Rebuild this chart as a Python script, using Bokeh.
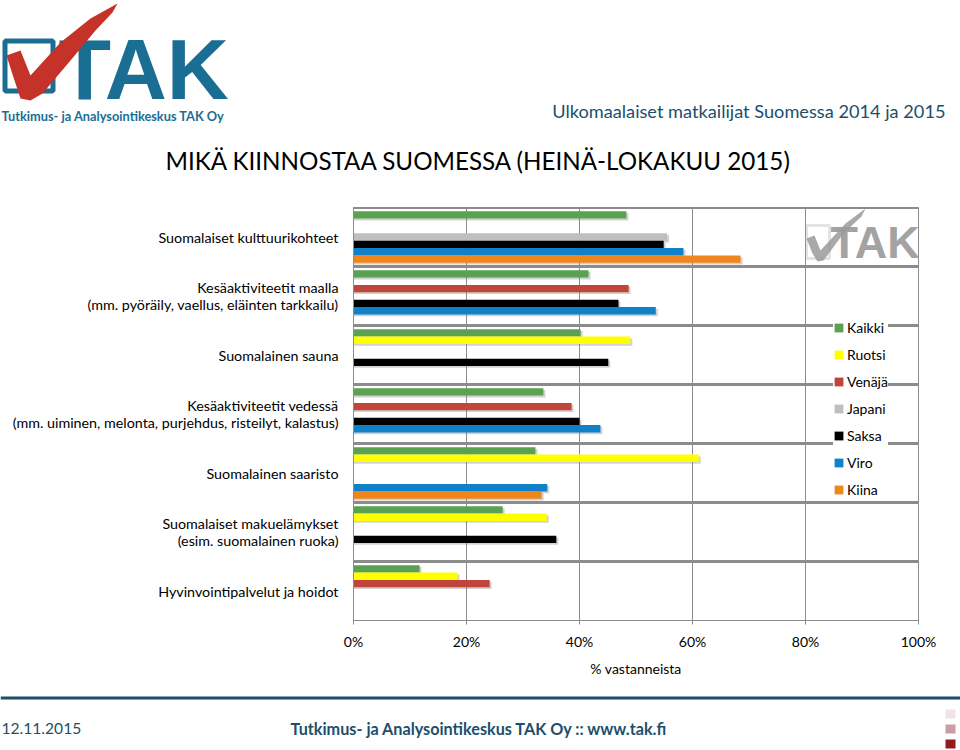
import numpy as np
from bokeh.plotting import figure
from bokeh.layouts import column
from bokeh.models import (FactorRange, Range1d, FixedTicker, PrintfTickFormatter, Label,
                          BoxAnnotation, PolyAnnotation, Span, ColumnDataSource)
from bokeh.transform import dodge
from bokeh.embed import file_html
from bokeh.resources import INLINE

nan = float("nan")

# ---------------- data ----------------
categories = [
    "Suomalaiset kulttuurikohteet",
    "Kesäaktiviteetit maalla\n(mm. pyöräily, vaellus, eläinten tarkkailu)",
    "Suomalainen sauna",
    "Kesäaktiviteetit vedessä\n(mm. uiminen, melonta, purjehdus, risteilyt, kalastus)",
    "Suomalainen saaristo",
    "Suomalaiset makuelämykset\n(esim. suomalainen ruoka)",
    "Hyvinvointipalvelut ja hoidot",
]
series_names = ["Kaikki", "Ruotsi", "Venäjä", "Japani", "Saksa", "Viro", "Kiina"]
series_colors = ["#5aa151", "#ffff00", "#c0453b", "#bfbfbf", "#000000", "#1080c8", "#ef861c"]

kaikki = [48.3, 41.6, 40.2, 33.6, 32.2, 26.4, 11.7]
ruotsi = [nan, nan, 49.0, nan, 61.1, 34.2, 18.4]
venaja = [nan, 48.7, nan, 38.6, nan, nan, 24.1]
japani = [55.5, nan, nan, nan, nan, nan, nan]
saksa = [54.9, 46.9, 45.1, 40.0, nan, 35.9, nan]
viro = [58.4, 53.5, nan, 43.7, 34.3, nan, nan]
kiina = [68.5, nan, nan, nan, 33.3, nan, nan]
series_values = [kaikki, ruotsi, venaja, japani, saksa, viro, kiina]

x_ticks = [0, 20, 40, 60, 80, 100]
x_axis_label = "% vastanneista"
chart_title = "MIKÄ KIINNOSTAA SUOMESSA (HEINÄ-LOKAKUU 2015)"
header_text = "Ulkomaalaiset matkailijat Suomessa 2014 ja 2015"
logo_sub = "Tutkimus- ja Analysointikeskus TAK Oy"
footer_date = "12.11.2015"
footer_text = "Tutkimus- ja Analysointikeskus TAK Oy  ::  www.tak.fi"

# ---------------- layout ----------------
W = 960
TOP_H = 200          # page 0..200
MAIN_TOP, MAIN_BOT = 200, 680
FOOT_H = 750 - MAIN_BOT
FL, FR, FT, FB = 353, 918, 207, 620   # frame edges in page pixels

TEAL = "#1b6e93"
DARK = "#1c4f6c"
GRID = "#8c8c8c"


def deco_figure(h):
    f = figure(width=W, height=h, output_backend="svg", toolbar_location=None,
               x_range=Range1d(0, W), y_range=Range1d(h, 0),
               x_axis_type=None, y_axis_type=None, min_border=0)
    f.frame_align = False
    f.outline_line_color = None
    f.grid.visible = False
    f.background_fill_color = "white"
    f.border_fill_color = "white"
    return f


def dlab(f, top, text, X, Y, size, color="#000000", font="Lato", style="normal",
         align="left", baseline="middle"):
    f.add_layout(Label(x=X, y=Y - top, text=text, text_font=font, text_font_size=f"{size}px",
                       text_color=color, text_font_style=style, text_align=align,
                       text_baseline=baseline))


def dbox(f, top, x0, y0, x1, y1, fill=None, line=None, lw=1):
    f.add_layout(BoxAnnotation(left=x0, right=x1, top=y0 - top, bottom=y1 - top,
                               fill_color=fill if fill else "white", fill_alpha=1 if fill else 0,
                               line_color=line if line else "white", line_alpha=1 if line else 0,
                               line_width=lw))


def dpoly(f, top, pts, color, alpha=1.0):
    f.add_layout(PolyAnnotation(xs=[a for a, b in pts], ys=[b - top for a, b in pts],
                                fill_color=color, fill_alpha=alpha, line_color=None))


# ---------------- header figure ----------------
top = deco_figure(TOP_H)
dbox(top, 0, 4.5, 40.5, 52.5, 90.5, line=TEAL, lw=5)
dlab(top, 0, "TAK", 58, 68, 86, color=TEAL, font="Liberation Sans", style="bold",
     baseline="alphabetic")
dpoly(top, 0, [(6, 55), (20, 50), (30, 75), (60, 42), (90, 18), (117, 3), (112, 12), (95, 30),
               (70, 60), (42, 93), (30, 100), (20, 98), (14, 80)], "#c5322a")
dlab(top, 0, logo_sub, 1, 115, 12.8, color=TEAL, style="bold")
dlab(top, 0, header_text, 945, 110, 18.2, color=DARK, align="right")
dlab(top, 0, chart_title, 165, 160, 24.2)

# ---------------- main chart ----------------
MH = MAIN_BOT - MAIN_TOP
p = figure(width=W, height=MH, output_backend="svg", toolbar_location=None,
           y_range=FactorRange(factors=list(reversed(categories))),
           x_range=Range1d(0, 100),
           min_border_left=FL, min_border_right=W - FR,
           min_border_top=FT - MAIN_TOP, min_border_bottom=MAIN_BOT - FB)
p.frame_align = False
p.background_fill_color = "white"
p.border_fill_color = "white"
p.outline_line_color = GRID
p.outline_line_width = 1

p.xaxis.ticker = FixedTicker(ticks=x_ticks)
p.xaxis.formatter = PrintfTickFormatter(format="%d%%")
p.xaxis.axis_label = x_axis_label
p.xaxis.axis_label_text_font = "Lato"
p.xaxis.axis_label_text_font_style = "normal"
p.xaxis.axis_label_text_font_size = "14px"
p.xaxis.axis_label_text_color = "#000000"
p.xaxis.axis_label_standoff = 7
p.xaxis.major_label_text_font = "Lato"
p.xaxis.major_label_text_font_size = "14px"
p.xaxis.major_label_text_color = "#000000"
p.xaxis.major_label_standoff = 8
p.xaxis.axis_line_color = GRID
p.xaxis.major_tick_line_color = GRID
p.xaxis.major_tick_in = 0
p.xaxis.major_tick_out = 4
p.xaxis.minor_tick_line_color = None

p.yaxis.major_label_text_font = "Lato"
p.yaxis.major_label_text_font_size = "14.3px"
p.yaxis.major_label_text_color = "#000000"
p.yaxis.major_label_text_line_height = 1.0
p.yaxis.major_label_standoff = 15
p.yaxis.axis_line_color = GRID
p.yaxis.major_tick_line_color = None
p.yaxis.major_tick_out = 0
p.yaxis.major_tick_in = 0

p.xgrid.ticker = FixedTicker(ticks=x_ticks)
p.xgrid.grid_line_color = GRID
p.xgrid.grid_line_width = 1
p.ygrid.ticker = FixedTicker(ticks=[1, 2, 3, 4, 5, 6])
p.ygrid.grid_line_color = GRID
p.ygrid.grid_line_width = 3
p.add_layout(Span(location=7, dimension="width", line_color=GRID, line_width=3))

step = 0.1247
sources = []
for vals in series_values:
    v = np.array(vals, dtype=float)
    sources.append(ColumnDataSource(dict(cat=categories, val=v, sh=v + 0.35)))

for j, src in enumerate(sources):
    off = (3 - j) * step
    p.hbar(y=dodge("cat", off - 0.03, range=p.y_range), left=0, right="sh", height=step,
           source=src, fill_color="#7f7f7f", fill_alpha=0.35, line_color=None)

for j, (name, src, col) in enumerate(zip(series_names, sources, series_colors)):
    off = (3 - j) * step
    p.hbar(y=dodge("cat", off, range=p.y_range), left=0, right="val", height=step,
           source=src, fill_color=col, line_color=None, legend_label=name)

lg = p.legend[0]
lg.location = (833 - FL, 122)
lg.background_fill_color = "white"
lg.background_fill_alpha = 1
lg.border_line_color = None
lg.padding = 7
lg.margin = 0
lg.spacing = 10
lg.glyph_width = 11
lg.glyph_height = 11
lg.label_standoff = 3
lg.label_height = 17
lg.label_text_font = "Lato"
lg.label_text_font_size = "14px"
lg.label_text_color = "#000000"


# watermark inside the frame (frame-relative screen units)
def sx(X):
    return X - FL


def sy(Y):
    return FB - Y


WG = "#a3a3a3"
WX = -5
p.add_layout(BoxAnnotation(left=sx(811 + WX), right=sx(834 + WX), top=sy(225), bottom=sy(258),
                           left_units="screen", right_units="screen", top_units="screen",
                           bottom_units="screen", fill_alpha=0, line_color=WG, line_width=3))
p.add_layout(Label(x=sx(835 + WX), y=sy(242), x_units="screen", y_units="screen", text="TAK",
                   text_font="Liberation Sans", text_font_style="bold", text_font_size="45px",
                   text_color=WG, text_baseline="alphabetic"))
wpts = [(811, 238), (819, 235), (825, 250), (850, 223), (870, 208), (866, 216), (848, 233),
        (828, 260), (822, 261), (817, 253)]
p.add_layout(PolyAnnotation(xs=[sx(a + WX) for a, b in wpts], ys=[sy(b) for a, b in wpts],
                            xs_units="screen", ys_units="screen", fill_color="#9a9a9a",
                            fill_alpha=0.85, line_color=None))

# ---------------- footer figure ----------------
foot = deco_figure(FOOT_H)
FT0 = MAIN_BOT
dbox(foot, FT0, 0, 696, 960, 699, fill=DARK)
dlab(foot, FT0, footer_date, 1, 728, 15.6, color=DARK)
dlab(foot, FT0, footer_text, 290, 728, 16.2, color=DARK, style="bold")
dbox(foot, FT0, 945, 709, 955, 718, fill="#f2e4e6")
dbox(foot, FT0, 945, 724, 955, 733, fill="#c99ea3")
dbox(foot, FT0, 945, 739, 955, 748, fill="#8e1b1e")

layout = column(top, p, foot, spacing=0)
open("out.html", "w").write(file_html(layout, INLINE))
